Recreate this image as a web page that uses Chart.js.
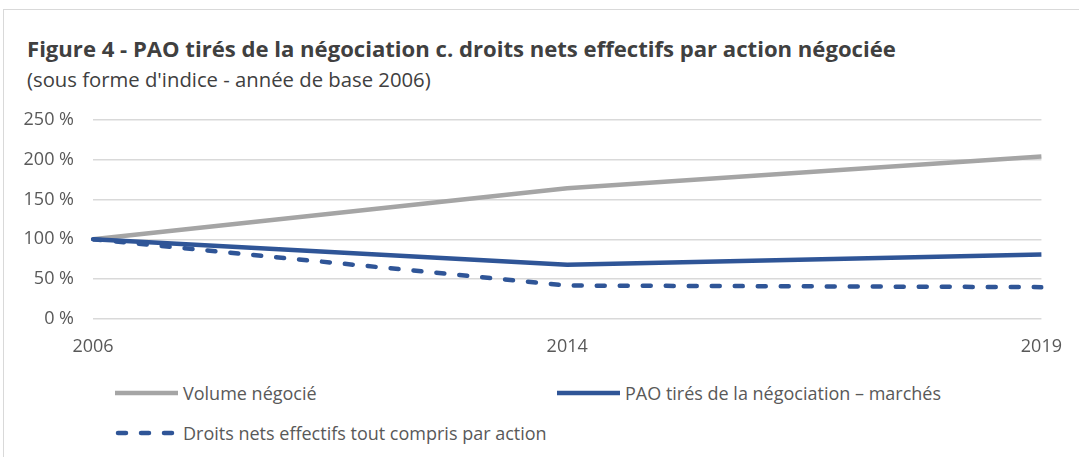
<!DOCTYPE html>
<html lang="fr">
<head>
<meta charset="utf-8">
<script src="https://cdn.jsdelivr.net/npm/chart.js@4.4.1/dist/chart.umd.min.js"></script>
<style>
  body { margin: 0; background: #fff; width: 1079px; height: 457px; overflow: hidden; position: relative; font-family: "Open Sans", "Liberation Sans", sans-serif; }
  #frame { position: absolute; left: 3px; top: 9px; width: 1100px; height: 460px; border: 1px solid #d9d9d9; box-sizing: border-box; }
  #title { position: absolute; left: 27px; top: 33px; font-size: 22.1px; font-weight: bold; color: #404040; white-space: nowrap; }
  #subtitle { position: absolute; left: 27px; top: 65px; font-size: 20.3px; color: #404040; white-space: nowrap; }
  #wrap { position: absolute; left: 0; top: 90px; width: 1079px; height: 267px; }
  .leg { position: absolute; display: flex; align-items: center; font-size: 18px; color: #595959; white-space: nowrap; }
  .leg svg { margin-right: 5px; }
</style>
</head>
<body>
<div id="frame"></div>
<div id="title">Figure 4 - PAO tirés de la négociation c. droits nets effectifs par action négociée</div>
<div id="subtitle">(sous forme d'indice - année de base 2006)</div>
<div id="wrap"><canvas id="chart"></canvas></div>
<div id="legend"></div>
<script>
const years = ["2006", "2014", "2019"];
const volumeNegocie = [100, 164, 204];
const paoMarches = [100, 68, 81];
const droitsNets = [100, 42, 40];
const yTicks = [0, 50, 100, 150, 200, 250];

const seriesNames = [
  "Volume négocié",
  "PAO tirés de la négociation – marchés",
  "Droits nets effectifs tout compris par action",
];

const GREY = "#a5a5a5";
const BLUE = "#2f5597";

document.addEventListener("DOMContentLoaded", function () {
  const ctx = document.getElementById("chart").getContext("2d");

  const chart = new Chart(ctx, {
    type: "line",
    data: {
      labels: years,
      datasets: [
        {
          label: seriesNames[0],
          data: volumeNegocie,
          borderColor: GREY,
          borderWidth: 4.5,
          order: 3,
        },
        {
          label: seriesNames[1],
          data: paoMarches,
          borderColor: BLUE,
          borderWidth: 4.5,
          order: 2,
        },
        {
          label: seriesNames[2],
          data: droitsNets,
          borderColor: BLUE,
          borderWidth: 4.5,
          borderDash: [8, 15],
          borderCapStyle: "round",
          order: 1,
        },
      ],
    },
    options: {
      responsive: true,
      maintainAspectRatio: false,
      animation: false,
      elements: {
        point: { radius: 0 },
        line: { tension: 0, borderJoinStyle: "round", fill: false },
      },
      layout: { padding: { top: 0, right: 31, bottom: 0, left: 0 } },
      plugins: {
        legend: { display: false },
        tooltip: { enabled: false },
      },
      scales: {
        x: {
          offset: false,
          afterFit: function (scale) {
            scale.height = 38;
          },
          grid: { display: false, drawTicks: false },
          border: { display: false },
          ticks: {
            padding: 17,
            color: "#595959",
            font: { family: "Open Sans", size: 18 },
            maxRotation: 0,
          },
        },
        y: {
          min: 0,
          max: 250,
          afterFit: function (scale) {
            scale.width = 93;
          },
          afterBuildTicks: function (scale) {
            scale.ticks = yTicks.map((v) => ({ value: v }));
          },
          grid: { color: "#d9d9d9", lineWidth: 1.5, drawTicks: false },
          border: { display: false },
          ticks: {
            padding: 19,
            color: "#595959",
            font: { family: "Open Sans", size: 18 },
            callback: (v) => v + "\u00a0%",
          },
        },
      },
    },
  });

  // légende à la main (disposition en colonnes comme dans Excel)
  const legendPos = [
    { left: 115, top: 394 },
    { left: 557, top: 394 },
    { left: 115, top: 434 },
  ];
  const legend = document.getElementById("legend");
  chart.data.datasets.forEach((ds, i) => {
    const item = document.createElement("div");
    item.className = "leg";
    item.style.left = legendPos[i].left + "px";
    item.style.top = legendPos[i].top - 13 + "px";
    const dash = ds.borderDash ? ds.borderDash.join(" ") : "none";
    const cap = ds.borderDash ? "round" : "butt";
    item.innerHTML =
      `<svg width="63" height="8"><line x1="${ds.borderDash ? 3 : 0}" y1="4" x2="63" y2="4" stroke="${ds.borderColor}" stroke-width="${ds.borderWidth}" stroke-dasharray="${dash}" stroke-linecap="${cap}"/></svg>` +
      `<span>${ds.label}</span>`;
    legend.appendChild(item);
  });
});
</script>
</body>
</html>
